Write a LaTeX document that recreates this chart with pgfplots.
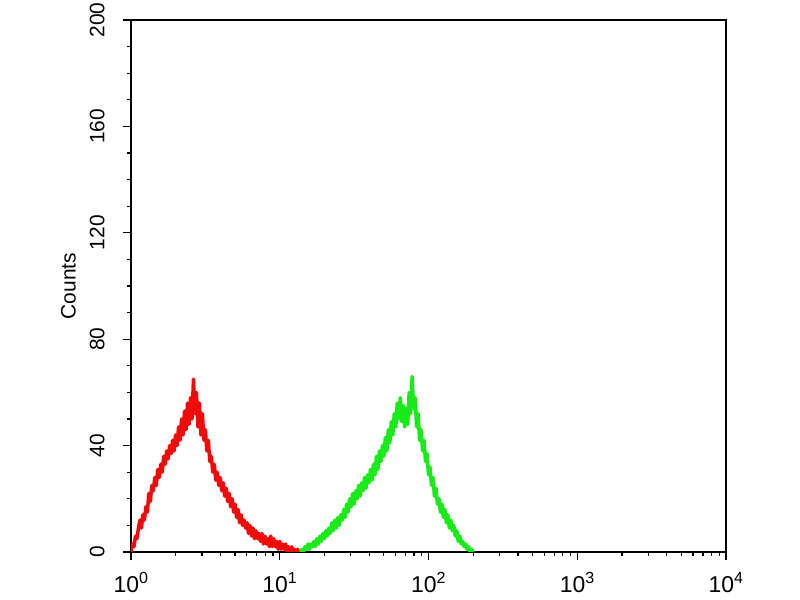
\documentclass[border=0pt]{standalone}
\usepackage{fontspec}
\setmainfont{Liberation Sans}
\usepackage{pgfplots}
\pgfplotsset{compat=1.18}
\definecolor{histred}{RGB}{240,10,10}
\definecolor{histgreen}{RGB}{25,235,25}

\begin{document}
\begin{tikzpicture}
    \useasboundingbox (-131bp,-48bp) rectangle (669bp,552bp);
    \begin{axis}[
            at={(0,0)}, anchor=south west,
            scale only axis,
            width=595bp, height=532bp,
            xmode=log,
            xmin=1, xmax=10000,
            ymin=0, ymax=200,
            xtick={1,10,100,1000,10000},
            xticklabels={10\textsuperscript{0},10\textsuperscript{1},10\textsuperscript{2},10\textsuperscript{3},10\textsuperscript{4}},
            ytick={0,40,80,120,160,200},
            minor y tick num=3,
            tick align=outside,
            xtick pos=bottom, ytick pos=left,
            major tick length=8bp, minor tick length=4bp,
            every tick/.style={black, line width=1.2bp},
            axis line style={line width=1.5bp},
            xticklabel style={font=\fontsize{23}{25}\selectfont, yshift=-9bp},
            % the shift is taken in the rotated frame: +y points left
            yticklabel style={font=\fontsize{21}{23}\selectfont, rotate=90, anchor=south, yshift=15bp},
            /pgf/number format/assume math mode=true,
            ylabel={Counts},
            ylabel style={font=\fontsize{21}{23}\selectfont, at={(axis description cs:-0.105,0.5)}, anchor=center},
        ]
        % red histogram
        \addplot[histred, line width=3.5bp, line join=round] coordinates {
                (1.000,0) (1.023,3) (1.047,2) (1.072,6) (1.096,5) (1.122,9) (1.148,12) (1.175,9) (1.202,14) (1.230,12)
                (1.259,17) (1.288,15) (1.318,22) (1.349,19) (1.380,25) (1.413,23) (1.445,28) (1.479,25) (1.514,31) (1.549,28)
                (1.585,33) (1.622,30) (1.660,36) (1.698,33) (1.738,38) (1.778,35) (1.820,40) (1.862,37) (1.905,42) (1.950,38)
                (1.995,44) (2.042,40) (2.089,47) (2.138,42) (2.188,50) (2.239,44) (2.291,53) (2.344,46) (2.399,56) (2.455,48)
                (2.512,58) (2.570,50) (2.630,65) (2.692,52) (2.754,60) (2.818,47) (2.884,56) (2.951,44) (3.020,52) (3.090,42)
                (3.162,46) (3.236,38) (3.311,42) (3.388,34) (3.467,36) (3.548,30) (3.631,33) (3.715,27) (3.802,30) (3.890,25)
                (3.981,28) (4.074,23) (4.169,26) (4.266,21) (4.365,24) (4.467,19) (4.571,22) (4.677,17) (4.786,20) (4.898,15)
                (5.012,18) (5.129,13) (5.248,16) (5.370,11) (5.495,14) (5.623,10) (5.754,12) (5.888,9) (6.026,11) (6.166,7)
                (6.310,10) (6.457,6) (6.607,9) (6.761,5) (6.918,8) (7.079,5) (7.244,7) (7.413,4) (7.586,7) (7.762,3)
                (7.943,6) (8.128,3) (8.318,5) (8.511,2) (8.710,6) (8.913,2) (9.120,5) (9.333,2) (9.550,4) (9.772,1)
                (10.00,4) (10.23,1) (10.47,3) (10.72,1) (10.96,3) (11.22,0) (11.48,2) (11.75,0) (12.02,2) (12.30,0)
                (12.59,1) (12.88,0) (13.18,1) (13.49,0) (13.80,0)
            };
        % green histogram
        \addplot[histgreen, line width=3.5bp, line join=round] coordinates {
                (13.80,0) (14.13,1) (14.45,0) (14.79,2) (15.14,1) (15.49,3)
                (15.85,1) (16.22,3) (16.60,2) (16.98,4) (17.38,2) (17.78,5) (18.20,3) (18.62,6) (19.05,4) (19.50,7)
                (19.95,5) (20.42,8) (20.89,6) (21.38,9) (21.88,7) (22.39,11) (22.91,8) (23.44,12) (23.99,9) (24.55,13)
                (25.12,10) (25.70,14) (26.30,12) (26.92,16) (27.54,13) (28.18,18) (28.84,15) (29.51,20) (30.20,17) (30.90,22)
                (31.62,18) (32.36,23) (33.11,20) (33.88,25) (34.67,21) (35.48,26) (36.31,23) (37.15,28) (38.02,24) (38.90,29)
                (39.81,26) (40.74,31) (41.69,27) (42.66,33) (43.65,29) (44.67,36) (45.71,31) (46.77,38) (47.86,34) (48.98,40)
                (50.12,36) (51.29,43) (52.48,38) (53.70,46) (54.95,41) (56.23,49) (57.54,44) (58.88,52) (60.26,47) (61.66,56)
                (63.10,50) (64.57,58) (66.07,49) (67.61,55) (69.18,47) (70.79,54) (72.44,48) (74.13,60) (75.86,52) (77.62,66)
                (79.43,54) (81.28,58) (83.18,47) (85.11,52) (87.10,42) (89.13,46) (91.20,38) (93.33,42) (95.50,34) (97.72,37)
                (100.0,29) (102.3,32) (104.7,25) (107.2,28) (109.6,21) (112.2,24) (114.8,18) (117.5,20) (120.2,15) (123.0,18)
                (125.9,13) (128.8,16) (131.8,11) (134.9,14) (138.0,9) (141.3,12) (144.5,8) (147.9,10) (151.4,6) (154.9,8)
                (158.5,4) (162.2,6) (166.0,3) (169.8,4) (173.8,2) (177.8,3) (182.0,1) (186.2,2) (190.5,0) (195.0,1)
                (199.5,0)
            };
    \end{axis}
\end{tikzpicture}
\end{document}
